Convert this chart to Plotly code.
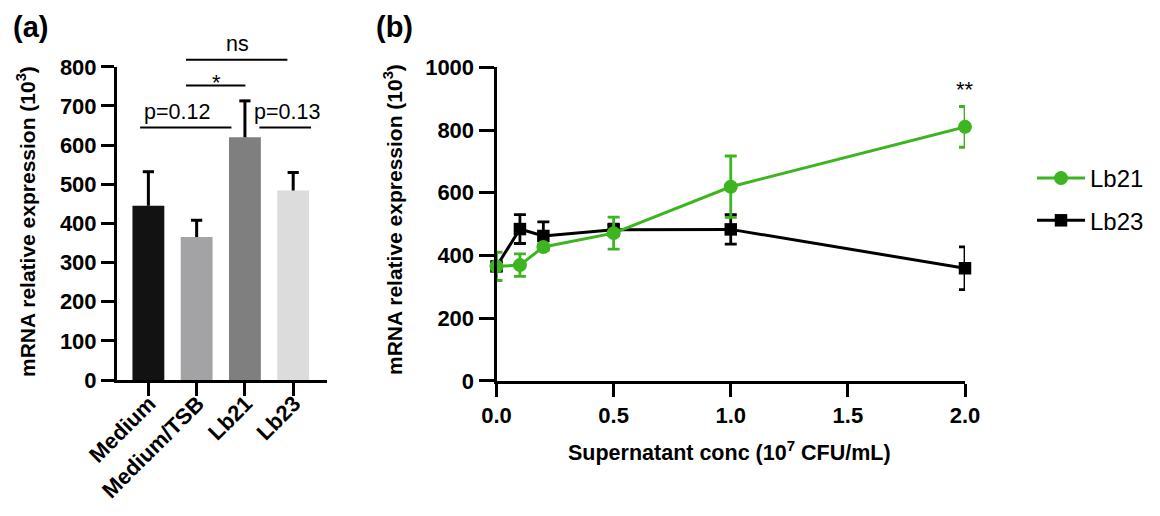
import plotly.graph_objects as go

# ---------------- data ----------------
categories = ["Medium", "Medium/TSB", "Lb21", "Lb23"]
bar_means = [445, 365, 620, 484]
bar_sem = [87, 43, 93, 46]
bar_colors = ["#111211", "#a3a3a5", "#7f7f7f", "#dcdcdc"]

conc = [0, 0.1, 0.2, 0.5, 1.0, 2.0]
lb21_mean = [365, 369, 427, 471, 619, 810]
lb21_err = [45, 36, 8, 51, 98, 65]
lb23_mean = [365, 484, 462, 482, 483, 359]
lb23_err = [10, 46, 45, 18, 47, 68]

yticks_a = [0, 100, 200, 300, 400, 500, 600, 700, 800]
yticks_b = [0, 200, 400, 600, 800, 1000]
xticks_b = [0.0, 0.5, 1.0, 1.5, 2.0]
xticklabels_b = ["0.0", "0.5", "1.0", "1.5", "2.0"]

# ---------------- layout geometry ----------------
# page body has an 8px margin; the figure is sized to fit inside the window
OFF = 8
W, H = 1160 - 2 * OFF, 516 - 2 * OFF
FONT = "Liberation Sans, Arial, sans-serif"
GREEN = "#3db520"

def pxx(p):
    return (p - OFF) / W

def pxy(p):
    return 1 - (p - OFF) / H

xa_dom = [pxx(117), pxx(326.5)]
xa_rng = [-0.65, 3.69]
ya_dom = [pxy(380), pxy(66.8)]
ya_rng = [0, 800]

xb_dom = [pxx(496.5), pxx(965)]
yb_dom = [pxy(380.8), pxy(67.3)]

def a_x(c):
    f = (c - xa_rng[0]) / (xa_rng[1] - xa_rng[0])
    return xa_dom[0] + f * (xa_dom[1] - xa_dom[0])

def a_y(v):
    f = (v - ya_rng[0]) / (ya_rng[1] - ya_rng[0])
    return ya_dom[0] + f * (ya_dom[1] - ya_dom[0])

fig = go.Figure()

# panel (a) bars
fig.add_trace(go.Bar(
    x=categories, y=bar_means, width=0.66,
    marker=dict(color=bar_colors, line=dict(width=0)),
    error_y=dict(type="data", array=bar_sem, arrayminus=[0] * len(bar_sem),
                 symmetric=False, thickness=3, width=0, color="black"),
    xaxis="x", yaxis="y", showlegend=False, hoverinfo="skip",
))
fig.add_trace(go.Scatter(
    x=categories, y=[m + s for m, s in zip(bar_means, bar_sem)],
    mode="markers", cliponaxis=False,
    marker=dict(symbol="line-ew", size=8, line=dict(width=3, color="black")),
    xaxis="x", yaxis="y", showlegend=False, hoverinfo="skip",
))

# panel (b) lines
fig.add_trace(go.Scatter(
    x=conc, y=lb23_mean, name="Lb23", legendrank=2, legendgroup="b",
    mode="lines+markers", cliponaxis=False,
    line=dict(color="black", width=3),
    marker=dict(symbol="square", size=12.5, color="black"),
    error_y=dict(type="data", array=lb23_err, thickness=2.8, width=6, color="black"),
    xaxis="x2", yaxis="y2",
))
fig.add_trace(go.Scatter(
    x=conc, y=lb21_mean, name="Lb21", legendrank=1, legendgroup="a",
    mode="lines+markers", cliponaxis=False,
    line=dict(color=GREEN, width=3),
    marker=dict(symbol="circle", size=14, color=GREEN),
    error_y=dict(type="data", array=lb21_err, thickness=2.8, width=6, color=GREEN),
    xaxis="x2", yaxis="y2",
))

axis_common = dict(showline=True, linewidth=3, linecolor="black", ticks="outside",
                   tickwidth=3, tickcolor="black", showgrid=False, zeroline=False,
                   fixedrange=True, automargin=False)
tick_font = dict(size=22, weight="bold", family=FONT, color="black")

fig.update_layout(
    template="none",
    width=W, height=H, margin=dict(l=0, r=0, t=0, b=0, pad=0, autoexpand=False),
    paper_bgcolor="white", plot_bgcolor="white",
    font=dict(family=FONT, color="black"),
    xaxis=dict(domain=xa_dom, range=xa_rng, tickangle=-45, ticklen=13,
               ticklabelstandoff=-14, ticklabelshift=1,
               tickfont=dict(tick_font, size=22), anchor="y", **axis_common),
    yaxis=dict(domain=ya_dom, range=ya_rng, tickvals=yticks_a, ticklen=13,
               tickfont=tick_font, anchor="x", **axis_common),
    xaxis2=dict(domain=xb_dom, range=[0, 2], tickvals=xticks_b, ticktext=xticklabels_b,
                ticklen=13, tickfont=tick_font, anchor="y2", **axis_common),
    yaxis2=dict(domain=yb_dom, range=[0, 1000], tickvals=yticks_b, ticklen=15,
                tickfont=tick_font, anchor="x2", **axis_common),
    legend=dict(x=pxx(1032), y=pxy(156), xanchor="left", yanchor="top",
                font=dict(size=24, family=FONT, color="black"), tracegroupgap=8,
                itemwidth=48, bgcolor="rgba(0,0,0,0)", borderwidth=0),
)

annotations = [
    dict(text="(a)", x=pxx(11), y=pxy(27), xanchor="left",
         font=dict(size=29, weight="bold")),
    dict(text="(b)", x=pxx(374), y=pxy(27), xanchor="left",
         font=dict(size=29, weight="bold")),
    dict(text="mRNA relative expression (10<sup>3</sup>)", x=pxx(26), y=pxy(222),
         textangle=-90, font=dict(size=21, weight="bold")),
    dict(text="mRNA relative expression (10<sup>3</sup>)", x=pxx(393), y=pxy(220),
         textangle=-90, font=dict(size=21, weight="bold")),
    dict(text="Supernatant conc (10<sup>7</sup> CFU/mL)", x=pxx(729), y=pxy(451),
         font=dict(size=21.5, weight="bold")),
    dict(text="p=0.12", x=a_x(0.59), y=a_y(650), yanchor="bottom", font=dict(size=21.5)),
    dict(text="p=0.13", x=a_x(2.88), y=a_y(650), yanchor="bottom", font=dict(size=21.5)),
    dict(text="*", x=a_x(1.41), y=pxy(82), font=dict(size=22)),
    dict(text="ns", x=a_x(1.84), y=a_y(822), yanchor="bottom", font=dict(size=21.5)),
    dict(text="**", x=2.0, y=928, xref="x2", yref="y2", font=dict(size=22)),
]
for a in annotations:
    a.setdefault("xref", "paper")
    a.setdefault("yref", "paper")
    a.setdefault("xanchor", "center")
    a.setdefault("yanchor", "middle")
    a.setdefault("showarrow", False)
fig.update_layout(annotations=annotations)

sig_lines = [(-0.17, 1.72, 645), (2.3, 3.37, 645), (0.78, 2.01, 752), (0.78, 2.88, 818)]
shapes = []
for x0, x1, lvl in sig_lines:
    shapes.append(dict(type="line", xref="paper", yref="paper",
                       x0=a_x(x0), x1=a_x(x1), y0=a_y(lvl), y1=a_y(lvl),
                       line=dict(color="black", width=2)))
fig.update_layout(shapes=shapes)

fig.write_html("out.html")
